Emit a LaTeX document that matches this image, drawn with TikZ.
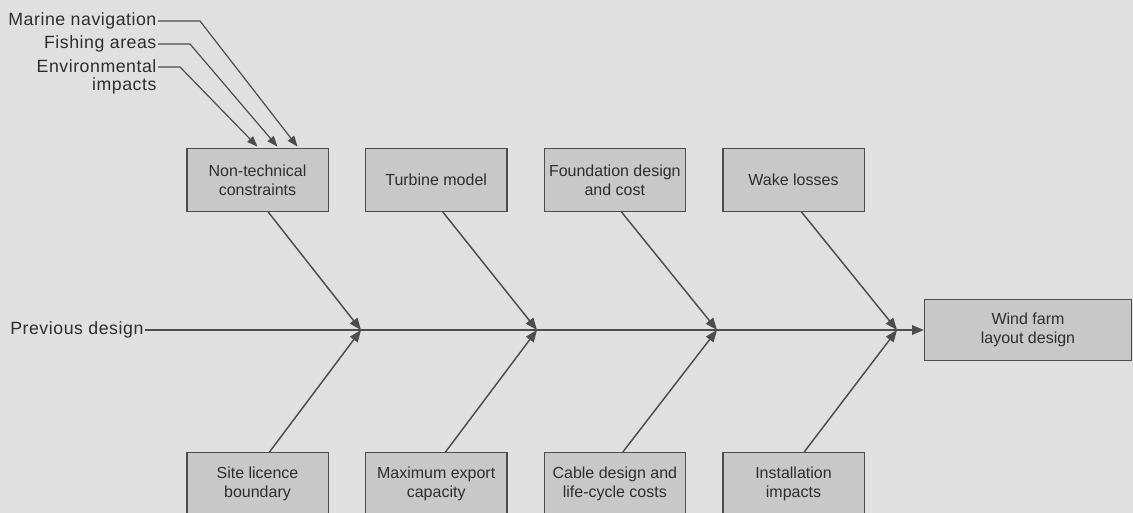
\documentclass[tikz,border=0pt]{standalone}
\usepackage{fontspec}
\setmainfont{Liberation Sans}
\newfontfamily\spacedfont[LetterSpace=3]{Liberation Sans}
\usetikzlibrary{positioning, arrows.meta}
\definecolor{bggray}{HTML}{E0E0E0}
\definecolor{boxgray}{HTML}{C8C8C8}
\definecolor{linegray}{HTML}{4D4D4D}
\definecolor{textgray}{HTML}{2E2E2E}

\begin{document}
\begin{tikzpicture}[
        x=0.75pt, y=-0.75pt,
        node distance=27pt and 27pt,
        cause/.style={draw=linegray, fill=boxgray, rectangle, line width=1pt, minimum width=106pt, minimum height=47pt, align=center, text=textgray, font=\fontsize{12}{14}\selectfont},
        effect/.style={cause, minimum width=155pt, minimum height=46pt},
        lbl/.style={text=textgray, align=right, inner sep=1pt, font=\fontsize{13.3}{13.5}\selectfont\spacedfont},
        arrow/.style={-{Triangle[length=9pt, width=7pt]}, draw=linegray, line width=1.1pt},
        spine/.style={arrow, line width=1.5pt},
        feed/.style={-{Triangle[length=8pt, width=6pt]}, draw=linegray, line width=0.9pt}
    ]
        \fill[bggray] (0,0) rectangle (1133,513);
        \useasboundingbox (0,0) rectangle (1133,513);

        % Nodes
        \node[cause] (nontech) at (257.5,180) {Non-technical\\constraints};
        \node[cause, right=of nontech] (turbine) {Turbine model};
        \node[cause, right=of turbine] (foundation) {Foundation design\\and cost};
        \node[cause, right=of foundation] (wake) {Wake losses};

        \node[cause] (site) at (257.5,484) {Site licence\\boundary};
        \node[cause, right=of site] (export) {Maximum export\\capacity};
        \node[cause, right=of export] (cable) {Cable design and\\life-cycle costs};
        \node[cause, right=of cable] (install) {Installation\\impacts};

        \node[effect] (farm) at (1028,330) {Wind farm\\layout design};
        \node[lbl, anchor=east] (prev) at (145,330) {Previous design};

        \node[lbl, anchor=east] (marine) at (158,21) {Marine navigation};
        \node[lbl, anchor=east] (fishing) at (158,44) {Fishing areas};
        \node[lbl, anchor=east] (env) at (158,77) {Environmental\\impacts};

        \coordinate (j1) at (361,330);
        \coordinate (j2) at (537,330);
        \coordinate (j3) at (717,330);
        \coordinate (j4) at (897,330);
        \coordinate (marinebend) at (200,21);
        \coordinate (fishingbend) at (190,44);
        \coordinate (envbend) at (180,67);

        % Arrows
        \draw[spine] (prev.east) -- (farm.west);

        \draw[arrow] ([xshift=8pt]nontech.south) -- (j1);
        \draw[arrow] ([xshift=5pt]turbine.south) -- (j2);
        \draw[arrow] ([xshift=5pt]foundation.south) -- (j3);
        \draw[arrow] ([xshift=6pt]wake.south) -- (j4);

        \draw[arrow] ([xshift=9pt]site.north) -- (j1);
        \draw[arrow] ([xshift=7pt]export.north) -- (j2);
        \draw[arrow] ([xshift=6pt]cable.north) -- (j3);
        \draw[arrow] ([xshift=8pt]install.north) -- (j4);

        \draw[feed] (marine.east) -- (marinebend) -- ([xshift=30pt, yshift=1pt]nontech.north);
        \draw[feed] (fishing.east) -- (fishingbend) -- ([xshift=15pt, yshift=1pt]nontech.north);
        \draw[feed] ([yshift=7.5pt]env.east) -- (envbend) -- ([yshift=1pt]nontech.north);
    \end{tikzpicture}
\end{document}
